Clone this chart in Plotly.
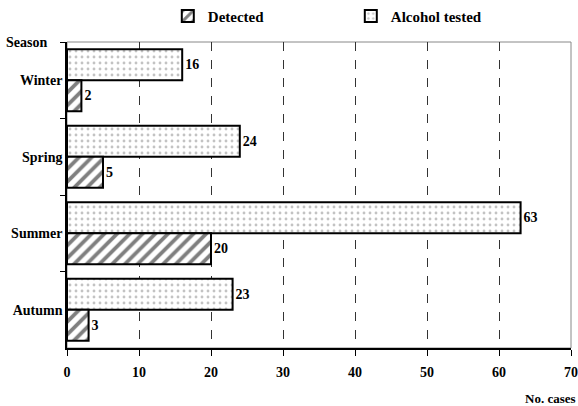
import plotly.graph_objects as go

seasons = ["Winter", "Spring", "Summer", "Autumn"]
detected = [2, 5, 20, 3]
alcohol_tested = [16, 24, 63, 23]
x_ticks = [0, 10, 20, 30, 40, 50, 60, 70]

FONT = "Liberation Serif"
LBL = dict(family=FONT, size=14, color="black", weight="bold")
fig = go.Figure()
fig.add_trace(go.Bar(
    y=seasons, x=alcohol_tested, orientation="h", name="Alcohol tested",
    text=alcohol_tested, textposition="outside", cliponaxis=False,
    textfont=LBL, outsidetextfont=LBL,
    marker=dict(color="white", line=dict(color="black", width=2),
                pattern=dict(shape=".", fgcolor="#888888", bgcolor="white", size=6, solidity=0.18)),
    legendrank=2,
))
fig.add_trace(go.Bar(
    y=seasons, x=detected, orientation="h", name="Detected",
    text=detected, textposition="outside", cliponaxis=False,
    textfont=LBL, outsidetextfont=LBL,
    marker=dict(color="white", line=dict(color="black", width=2),
                pattern=dict(shape="/", fgcolor="black", bgcolor="white", size=9, solidity=0.42)),
    legendrank=1,
))

fig.update_layout(
    width=578, height=406,
    margin=dict(l=67, r=7, t=42, b=58, autoexpand=False),
    plot_bgcolor="white", paper_bgcolor="white",
    barmode="group", bargap=0.19, bargroupgap=0,
    font=dict(family=FONT, size=14, color="black"),
    legend=dict(orientation="h", x=0.2, xanchor="left", y=1.03, yanchor="bottom",
                entrywidth=138, entrywidthmode="pixels",
                font=dict(family=FONT, size=15, color="black", weight="bold"),
                itemwidth=30, tracegroupgap=0),
    xaxis=dict(range=[0, 70], tickvals=x_ticks, showgrid=True, griddash="dash",
               gridcolor="#333333", gridwidth=1, zeroline=False,
               showline=True, linecolor="black", linewidth=1.5,
               ticks="outside", ticklen=6, tickcolor="black",
               ticklabelstandoff=4, automargin=False,
               tickfont=dict(family=FONT, size=14, color="black", weight="bold")),
    yaxis=dict(autorange="reversed", showline=True, linecolor="black", linewidth=1.5,
               ticks="outside", tickson="boundaries", ticklen=5, tickcolor="black",
               showgrid=False, automargin=False,
               tickfont=dict(family=FONT, size=14, color="black", weight="bold")),
    shapes=[dict(type="rect", xref="paper", yref="paper", x0=0, x1=1, y0=0, y1=1,
                 line=dict(color="#888888", width=1), layer="below")],
    annotations=[
        dict(text="<b>No. cases</b>", xref="paper", yref="paper", x=1.014, y=-0.135,
             xanchor="right", yanchor="top", showarrow=False,
             font=dict(family=FONT, size=13, color="black")),
        dict(text="<b>Season</b>", xref="paper", yref="paper", x=-0.125, y=1.0,
             xanchor="left", yanchor="middle", showarrow=False,
             font=dict(family=FONT, size=14, color="black")),
    ],
)

fig.write_html("out.html", config={"displayModeBar": False},
               post_script="document.body.style.margin='0';document.body.style.overflow='hidden';")
